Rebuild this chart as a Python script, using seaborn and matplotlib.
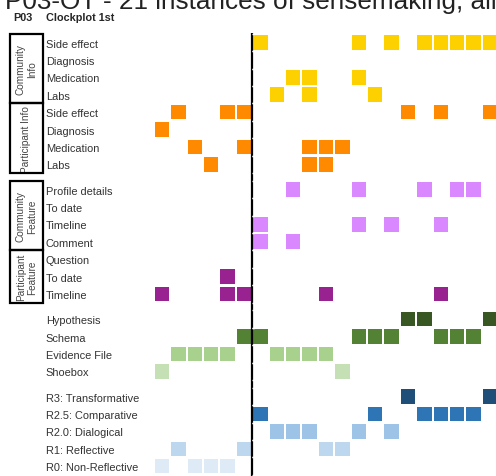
import numpy as np
import pandas as pd
import seaborn as sns
import matplotlib.pyplot as plt
from matplotlib.patches import Rectangle

# rows of the clockplot, top to bottom
row_labels = ["Side effect", "Diagnosis", "Medication", "Labs",
              "Side effect", "Diagnosis", "Medication", "Labs",
              "Profile details", "To date", "Timeline", "Comment",
              "Question", "To date", "Timeline",
              "Hypothesis", "Schema", "Evidence File", "Shoebox",
              "R3: Transformative", "R2.5: Comparative", "R2.0: Dialogical",
              "R1: Reflective", "R0: Non-Reflective"]
row_groups = [0] * 8 + [1] * 7 + [2] * 4 + [3] * 5
row_colors = ["#FDD000"] * 4 + ["#FF8A00"] * 4 + ["#D988FF"] * 4 + ["#992291"] * 3 + \
             ["#385723", "#548235", "#A9D18E", "#C5E0B4",
              "#1F4E79", "#2E75B6", "#9DC3E6", "#BDD7EE", "#DEEBF7"]

# which of the 21 instances (0..20) are marked in each row
row_instances = [
    [6, 12, 14, 16, 17, 18, 19, 20],
    [],
    [8, 9, 12],
    [7, 9, 13],
    [1, 4, 5, 15, 17, 20],
    [0],
    [2, 5, 9, 10, 11],
    [3, 9, 10],
    [8, 12, 16, 18, 19],
    [],
    [6, 12, 14, 17],
    [6, 8],
    [],
    [4],
    [0, 4, 5, 10, 17],
    [15, 16, 20],
    [5, 6, 12, 13, 14, 17, 18, 19],
    [1, 2, 3, 4, 7, 8, 9, 10],
    [0, 11],
    [15, 20],
    [6, 13, 16, 17, 18, 19],
    [7, 8, 9, 12, 14],
    [1, 5, 10, 11],
    [0, 2, 3, 4],
]

boxes = [("Community\nInfo", 0, 3), ("Participant Info", 4, 7),
         ("Community\nFeature", 8, 11), ("Participant\nFeature", 12, 14)]

title = "P03-OT - 21 instances of sensemaking, all"

y_pos = [i + 0.45 * g for i, g in enumerate(row_groups)]

records = []
for r, cols in enumerate(row_instances):
    for c in cols:
        records.append({"instance": c, "y": y_pos[r], "row": r})
df = pd.DataFrame(records)
palette = {r: row_colors[r] for r in range(len(row_labels))}

sns.set_style("white")
plt.rcParams["font.family"] = ["Liberation Sans", "DejaVu Sans"]

fig = plt.figure(figsize=(4.96, 4.77), dpi=100)
ax = fig.add_axes([150 / 496, 0, 346 / 496, 447 / 477])

sns.scatterplot(data=df, x="instance", y="y", hue="row", palette=palette,
                marker="s", s=109, linewidth=0, legend=False, ax=ax, zorder=3)

ax.set_xlim(-0.732, 20.366)
ax.set_ylim(24.914, -0.776)

# divider between before / after
ax.vlines(5.49, -0.55, 24.914, color="black", lw=1.6, zorder=4)
for y in y_pos:
    for e in (y - 0.5, y + 0.5):
        ax.hlines(e, 5.5, 5.58, color="white", lw=1.0, zorder=5)

ax.set_yticks(y_pos, row_labels)
for lbl in ax.get_yticklabels():
    lbl.set_horizontalalignment("left")
    lbl.set_color("#333333")
ax.tick_params(axis="y", length=0, pad=74.9, labelsize=7.9)
ax.set_xticks([])
ax.set_xlabel("")
ax.set_ylabel("")
sns.despine(ax=ax, left=True, bottom=True)

for text, r0, r1 in boxes:
    top = y_pos[r0] - 0.5
    bot = y_pos[r1] + 0.5
    ax.add_patch(Rectangle((-9.27, top), 2.0, bot - top, fill=False,
                           edgecolor="black", lw=1.6, clip_on=False, zorder=4))
    ax.text(-8.27, (top + bot) / 2, text, rotation=90, ha="center", va="center",
            fontsize=7.2, color="#444444", linespacing=1.1, clip_on=False)

fig.text(5 / 496, 1 - 8.5 / 477, title, fontsize=18.8, color="#222222",
         va="baseline", ha="left")
fig.text(13 / 496, 1 - 21 / 477, "P03", fontsize=7.8, weight="bold", va="baseline")
fig.text(46 / 496, 1 - 21 / 477, "Clockplot 1st", fontsize=7.8, weight="bold", va="baseline")

fig.savefig("out.png", dpi=100)
